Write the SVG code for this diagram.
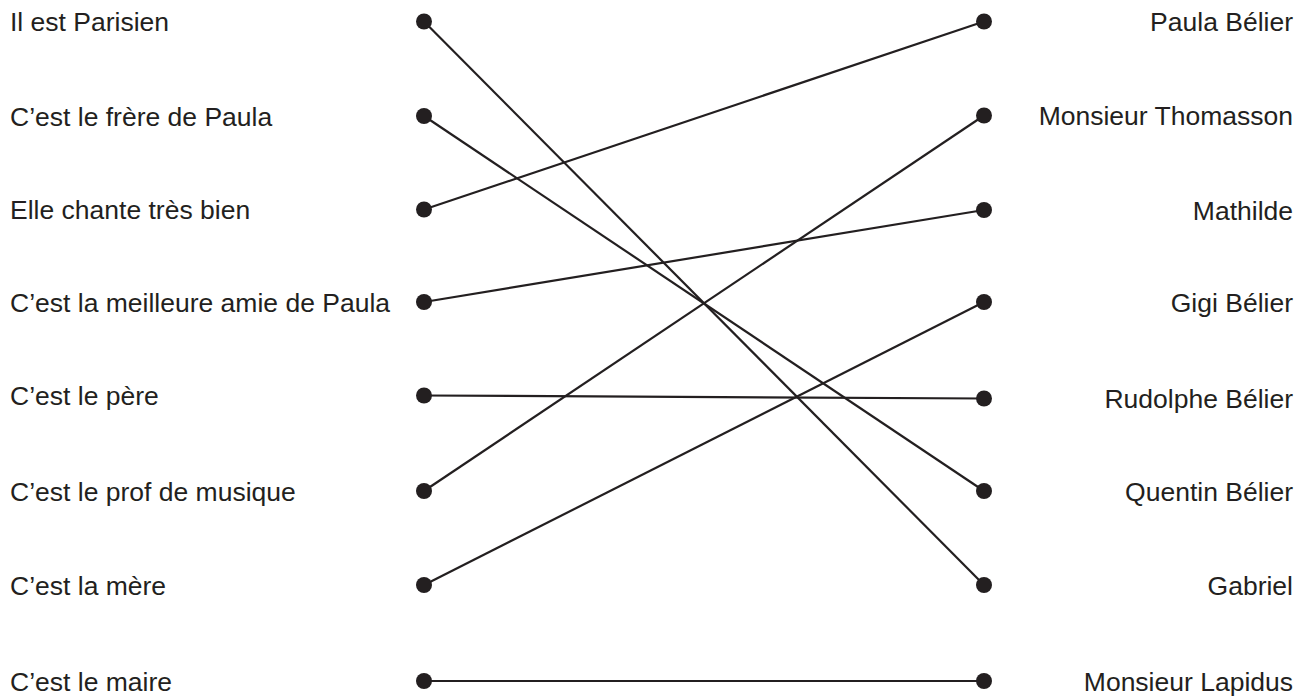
<svg xmlns="http://www.w3.org/2000/svg" width="1311" height="699" viewBox="0 0 1311 699">
<style>
text{font-family:"Liberation Sans",Arial,sans-serif;font-size:26.5px;fill:#231f20}
.r{text-anchor:end}
.dot{fill:#231f20}
.ln{stroke:#231f20;stroke-width:2.2;fill:none}
</style>
<rect width="1311" height="699" fill="#fff"/>
<g id="connectors">
<line class="ln" x1="424" y1="21.5" x2="984" y2="585"/>
<line class="ln" x1="424" y1="116" x2="984" y2="491"/>
<line class="ln" x1="424" y1="209.5" x2="984" y2="21.5"/>
<line class="ln" x1="424" y1="302" x2="984" y2="210"/>
<line class="ln" x1="424" y1="395.5" x2="984" y2="398.5"/>
<line class="ln" x1="424" y1="491" x2="984" y2="115.5"/>
<line class="ln" x1="424" y1="585" x2="984" y2="302"/>
<line class="ln" x1="424" y1="681" x2="984" y2="681"/>
</g>
<g id="l1"><text x="10" y="31">Il est Parisien</text><circle class="dot" cx="424" cy="21.5" r="8"/></g>
<g id="l2"><text x="10" y="125.5">C’est le frère de Paula</text><circle class="dot" cx="424" cy="116" r="8"/></g>
<g id="l3"><text x="10" y="219">Elle chante très bien</text><circle class="dot" cx="424" cy="209.5" r="8"/></g>
<g id="l4"><text x="10" y="311.5">C’est la meilleure amie de Paula</text><circle class="dot" cx="424" cy="302" r="8"/></g>
<g id="l5"><text x="10" y="405">C’est le père</text><circle class="dot" cx="424" cy="395.5" r="8"/></g>
<g id="l6"><text x="10" y="500.5">C’est le prof de musique</text><circle class="dot" cx="424" cy="491" r="8"/></g>
<g id="l7"><text x="10" y="594.5">C’est la mère</text><circle class="dot" cx="424" cy="585" r="8"/></g>
<g id="l8"><text x="10" y="690.5">C’est le maire</text><circle class="dot" cx="424" cy="681" r="8"/></g>
<g id="r1"><text class="r" x="1293" y="31">Paula Bélier</text><circle class="dot" cx="984" cy="21.5" r="8"/></g>
<g id="r2"><text class="r" x="1293" y="125">Monsieur Thomasson</text><circle class="dot" cx="984" cy="115.5" r="8"/></g>
<g id="r3"><text class="r" x="1293" y="219.5">Mathilde</text><circle class="dot" cx="984" cy="210" r="8"/></g>
<g id="r4"><text class="r" x="1293" y="311.5">Gigi Bélier</text><circle class="dot" cx="984" cy="302" r="8"/></g>
<g id="r5"><text class="r" x="1293" y="408">Rudolphe Bélier</text><circle class="dot" cx="984" cy="398.5" r="8"/></g>
<g id="r6"><text class="r" x="1293" y="500.5">Quentin Bélier</text><circle class="dot" cx="984" cy="491" r="8"/></g>
<g id="r7"><text class="r" x="1293" y="594.5">Gabriel</text><circle class="dot" cx="984" cy="585" r="8"/></g>
<g id="r8"><text class="r" x="1293" y="690.5">Monsieur Lapidus</text><circle class="dot" cx="984" cy="681" r="8"/></g>
</svg>
